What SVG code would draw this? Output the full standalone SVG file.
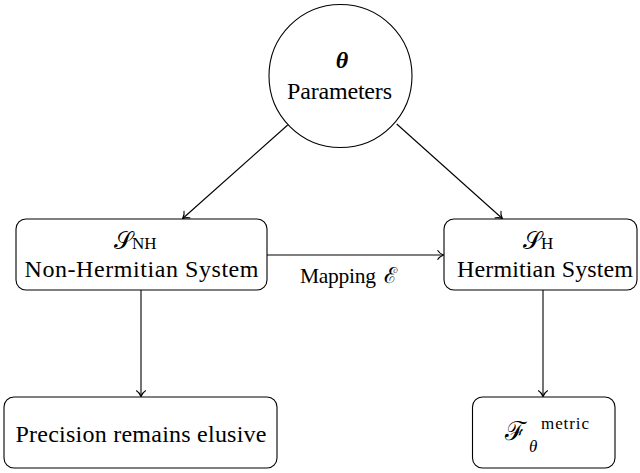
<svg xmlns="http://www.w3.org/2000/svg" width="640" height="473" viewBox="0 0 640 473">
<style>
.node{fill:#fff;stroke:#000;stroke-width:1.1}
.edge{fill:none;stroke:#000;stroke-width:1.1;marker-end:url(#arr)}
</style>
<defs>
<marker id="arr" viewBox="-8 -6 10 12" refX="0" refY="0" markerWidth="10" markerHeight="12" markerUnits="userSpaceOnUse" orient="auto">
<path d="M -6 -4.8 C -4.5 -2.2 -1.5 -0.6 0 0 C -1.5 0.6 -4.5 2.2 -6 4.8" fill="none" stroke="#000" stroke-width="1.1"/>
</marker>
</defs>
<g id="connectors">
<line class="edge" x1="287.7" y1="125" x2="182.7" y2="218.5"/>
<line class="edge" x1="396.7" y1="124" x2="502.3" y2="218.5"/>
<line class="edge" x1="267" y1="255" x2="443.5" y2="255"/>
<line class="edge" x1="141" y1="290" x2="141" y2="396.5"/>
<line class="edge" x1="543" y1="290" x2="543" y2="396.5"/>
<text x="300" y="283" font-family="Liberation Serif, serif" font-size="21.5" textLength="76">Mapping</text>
<text x="384" y="283" font-family="Liberation Serif, serif" font-size="22">ℰ</text>
</g>
<g id="params">
<circle class="node" cx="340.5" cy="76" r="71.5"/>
<text x="342" y="68" text-anchor="middle" font-family="Liberation Serif, serif" font-size="24" font-weight="bold" font-style="italic">θ</text>
<text x="339.5" y="99" text-anchor="middle" font-family="Liberation Serif, serif" font-size="24" textLength="105">Parameters</text>
</g>
<g id="nh">
<rect class="node" x="16" y="219" width="251" height="71" rx="10"/>
<text x="114" y="249" font-family="Liberation Serif, serif" font-size="24">𝒮</text>
<text x="132" y="249" font-family="Liberation Serif, serif" font-size="17">NH</text>
<text x="141.5" y="277" text-anchor="middle" font-family="Liberation Serif, serif" font-size="24" textLength="234">Non-Hermitian System</text>
</g>
<g id="h">
<rect class="node" x="444" y="219" width="193" height="71" rx="10"/>
<text x="523" y="249" font-family="Liberation Serif, serif" font-size="24">𝒮</text>
<text x="541" y="249" font-family="Liberation Serif, serif" font-size="17">H</text>
<text x="545" y="277" text-anchor="middle" font-family="Liberation Serif, serif" font-size="24" textLength="176">Hermitian System</text>
</g>
<g id="precision">
<rect class="node" x="4" y="397" width="273" height="71" rx="10"/>
<text x="141" y="442" text-anchor="middle" font-family="Liberation Serif, serif" font-size="24" textLength="251">Precision remains elusive</text>
</g>
<g id="fisher">
<rect class="node" x="472.5" y="397" width="142.5" height="71" rx="10"/>
<text x="505" y="440" font-family="Liberation Serif, serif" font-size="26">ℱ</text>
<text x="529" y="452" font-family="Liberation Serif, serif" font-size="17" font-style="italic">θ</text>
<text x="541" y="429" font-family="Liberation Serif, serif" font-size="17" textLength="48">metric</text>
</g>
</svg>
